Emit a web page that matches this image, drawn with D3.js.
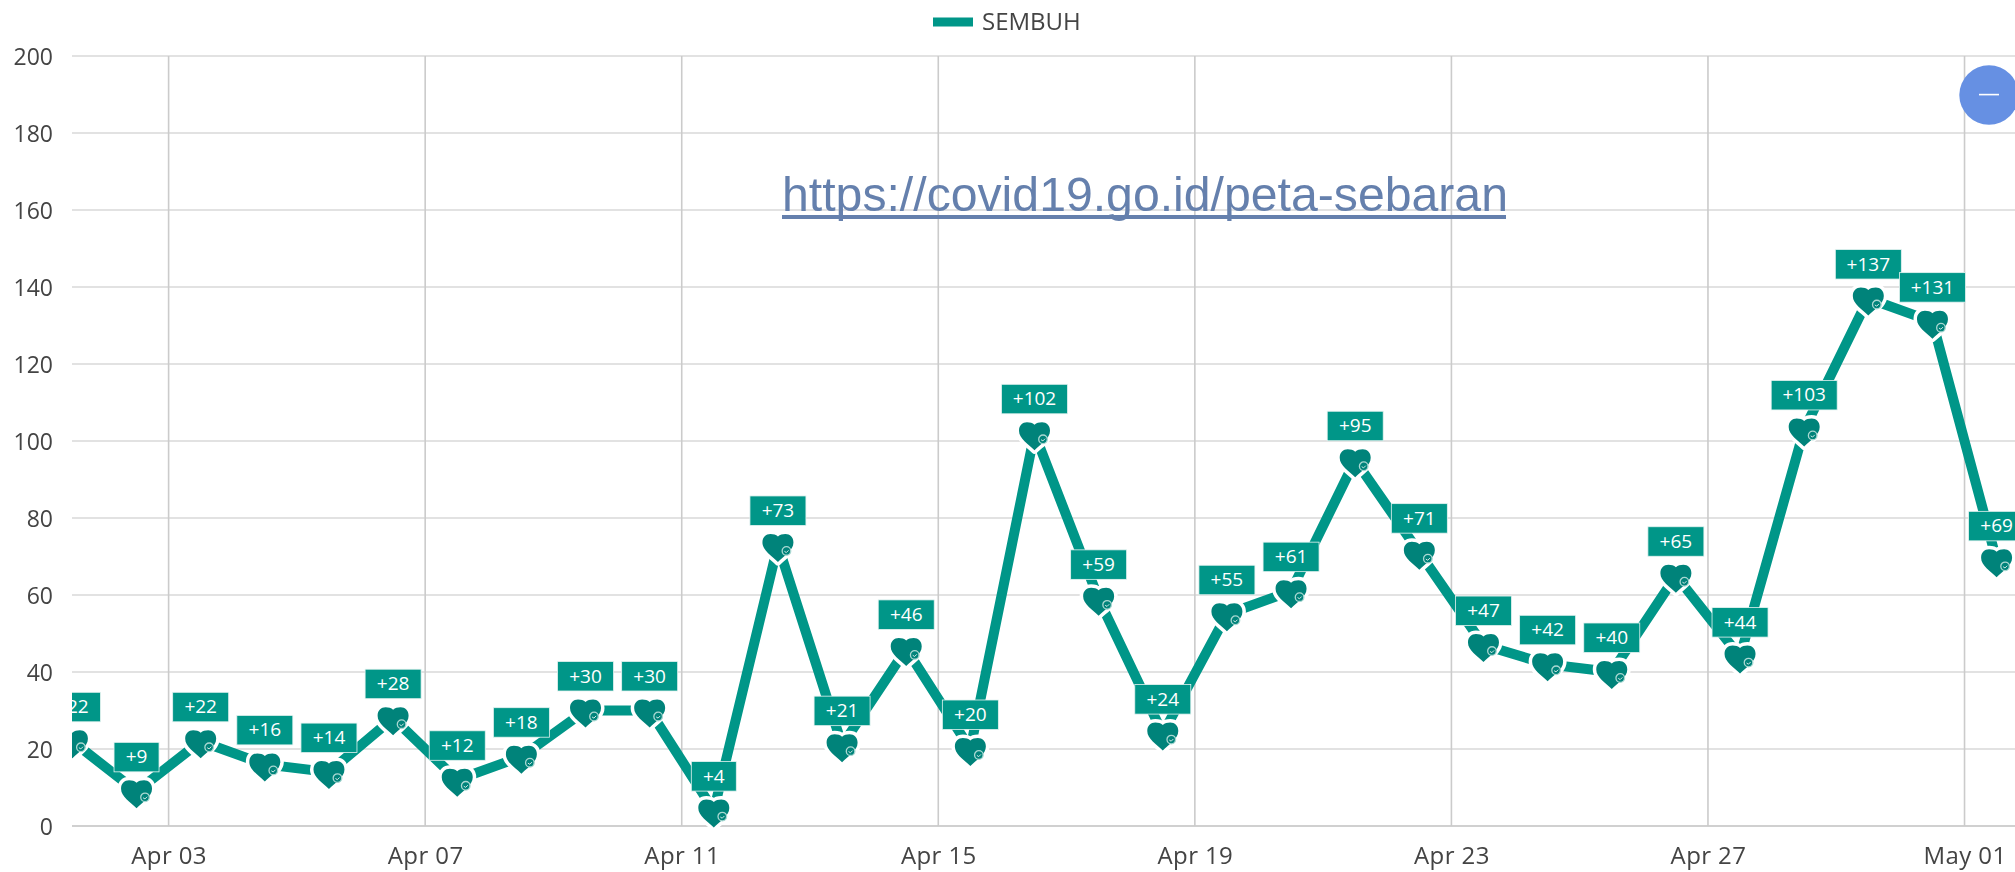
<!DOCTYPE html>
<html><head><meta charset="utf-8">
<script src="https://cdn.jsdelivr.net/npm/d3@7"></script>
<style>
html,body{margin:0;padding:0;background:#fff;overflow:hidden}
svg{display:block;filter:blur(0.7px)}
text{font-family:"Open Sans","Noto Sans",sans-serif}
</style></head><body>
<script>
const startDate = "2020-04-01T12:00:00Z";
const endDate = "2020-05-01T12:00:00Z";
const dates = ["04-01","04-02","04-03","04-04","04-05","04-06","04-07","04-08","04-09","04-10","04-11","04-12","04-13","04-14","04-15","04-16","04-17","04-18","04-19","04-20","04-21","04-22","04-23","04-24","04-25","04-26","04-27","04-28","04-29","04-30","05-01"];
const sembuh = [22,9,22,16,14,28,12,18,30,30,4,73,21,46,20,102,59,24,55,61,95,71,47,42,40,65,44,103,137,131,69];
const yTicks = [0,20,40,60,80,100,120,140,160,180,200];
const xTickDates = ["04-03","04-07","04-11","04-15","04-19","04-23","04-27","05-01"];
const seriesName = "SEMBUH";
const sourceUrl = "https://covid19.go.id/peta-sebaran";

const W = 2015, H = 872;
const left = 72, top_ = 56, bottom = 826;
const teal = "#009688", tealDark = "#00837a";
const toDate = s => new Date(`2020-${s}T00:00:00Z`);
const toPoint = s => new Date(`2020-${s}T12:00:00Z`);

const x = d3.scaleUtc().domain([new Date(startDate), new Date(endDate)]).range([72.4, 1996.6]);
const y = d3.scaleLinear().domain([0,200]).range([bottom, top_]);

const svg = d3.select("body").append("svg").attr("width",W).attr("height",H);
svg.append("defs").append("clipPath").attr("id","plot").append("rect")
  .attr("x",left).attr("y",0).attr("width",W-left).attr("height",H);

// Y axis + horizontal grid
const yAxis = d3.axisLeft(y).tickValues(yTicks).tickSize(0).tickPadding(0);
const gy = svg.append("g").attr("transform",`translate(53,0)`).call(yAxis);
gy.select(".domain").remove();
gy.selectAll("text").attr("font-size",23).attr("fill","#444").attr("dy","0.36em");
svg.append("g").selectAll("line").data(yTicks).join("line")
  .attr("x1",left).attr("x2",W).attr("y1",y).attr("y2",y)
  .attr("stroke",d=>d===0?"#c0c0c0":"#d8d8d8").attr("stroke-width",1.6);

// X axis + vertical grid
const xAxis = d3.axisBottom(x).tickValues(xTickDates.map(toDate))
  .tickFormat(d3.utcFormat("%b %d")).tickSize(0).tickPadding(0);
const gx = svg.append("g").attr("transform",`translate(0,847)`).call(xAxis);
gx.select(".domain").remove();
gx.selectAll("text").attr("font-size",24).attr("letter-spacing",0.4).attr("fill","#444").attr("dy","0.72em");
svg.append("g").selectAll("line").data(xTickDates).join("line")
  .attr("x1",d=>x(toDate(d))).attr("x2",d=>x(toDate(d))).attr("y1",top_).attr("y2",bottom)
  .attr("stroke","#cbcbcb").attr("stroke-width",1.6);

// Legend
svg.append("rect").attr("x",933).attr("y",17.5).attr("width",40).attr("height",9).attr("fill",teal);
svg.append("text").attr("x",982).attr("y",30).attr("font-size",24).attr("fill","#444").text(seriesName);

// Source link
svg.append("text").attr("x",782).attr("y",211)
  .style("font-family","'Liberation Sans',Arial,sans-serif")
  .attr("font-size",48.2).attr("fill","#6580ad").text(sourceUrl);
svg.append("rect").attr("x",782).attr("y",215).attr("width",724).attr("height",4).attr("fill","#6580ad");

const plot = svg.append("g").attr("clip-path","url(#plot)");
const pts = dates.map((d,i)=>({date:toPoint(d),v:sembuh[i]}));

plot.append("path").datum(pts)
  .attr("d",d3.line().x(d=>x(d.date)).y(d=>y(d.v)))
  .attr("fill","none").attr("stroke",teal).attr("stroke-width",10).attr("stroke-linejoin","round");

const heart = "M0,15C-6,9 -15.5,3.5 -15.5,-4.5C-15.5,-10 -12,-13 -7.5,-13C-4.5,-13 -2,-12.3 0,-10.5C2,-12.3 4.5,-13 7.5,-13C12,-13 15.5,-10 15.5,-4.5C15.5,3.5 6,9 0,15Z";
const marks = plot.append("g").selectAll("g").data(pts).join("g")
  .attr("transform",d=>`translate(${x(d.date)},${y(d.v)+2})`);
marks.append("path").attr("d",heart).attr("fill",tealDark).attr("stroke","#fff").attr("stroke-width",7).attr("stroke-linejoin","round").attr("paint-order","stroke");
marks.append("circle").attr("cx",8.5).attr("cy",4).attr("r",4.3).attr("fill",tealDark).attr("stroke","#a9d8d2").attr("stroke-width",1.3);
marks.append("path").attr("d","M6.5,4.4L8.4,5.6L10.6,3.4").attr("fill","none").attr("stroke","#cfe9e5").attr("stroke-width",1);

// Value labels
const labels = plot.append("g").selectAll("g").data(pts).join("g")
  .attr("transform",d=>`translate(${x(d.date)},${y(d.v)})`);
const labelText = d=>"+"+d.v;
const labelW = d=>({1:45,2:56,3:66})[String(d.v).length];
labels.append("rect").attr("x",d=>-labelW(d)/2).attr("y",-49).attr("width",labelW).attr("height",29.5)
  .attr("fill",teal).attr("stroke","#e4f3f1").attr("stroke-width",0.8);
labels.append("text").attr("x",0).attr("y",-28).attr("text-anchor","middle")
  .attr("font-size",19).attr("fill","#fff").text(labelText);

// Zoom-out button
svg.append("circle").attr("cx",1989).attr("cy",95).attr("r",29.7).attr("fill","#6690e3");
svg.append("rect").attr("x",1979).attr("y",93.8).attr("width",20).attr("height",1.6).attr("fill","#fff");
</script>
</body></html>
